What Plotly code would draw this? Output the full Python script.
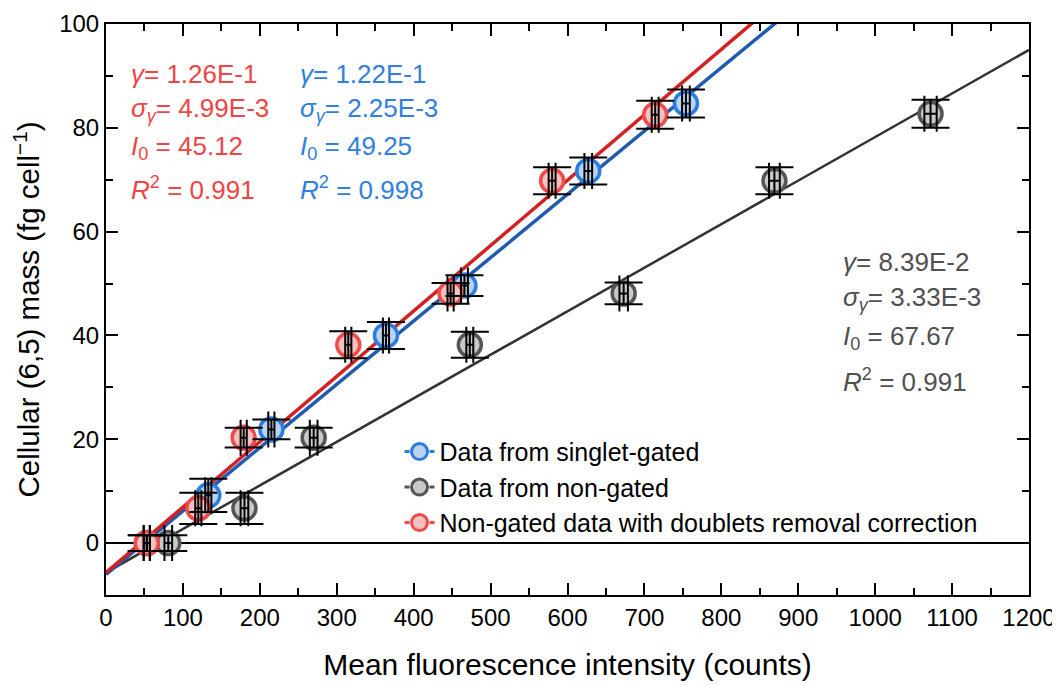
import numpy as np
import plotly.graph_objects as go

# ---------------- data ----------------
series_names = ["Data from singlet-gated", "Data from non-gated",
                "Non-gated data with doublets removal correction"]

blue_x = [53, 133, 215, 364, 466, 627, 754]
blue_y = [0, 9.2, 21.9, 40.0, 49.6, 71.7, 84.7]
blue_xerr = [4, 4, 4, 4, 4.5, 5, 5]
blue_yerr = [1.5, 3.2, 1.9, 2.6, 2.0, 2.6, 2.7]

gray_x = [81, 180, 270, 473, 673, 869, 1072]
gray_y = [0, 6.7, 20.3, 38.2, 48.1, 69.8, 82.7]
gray_xerr = [5, 5, 5, 4.5, 5.5, 7, 8]
gray_yerr = [1.5, 3.0, 1.9, 2.5, 2.1, 2.6, 2.7]

red_x = [53, 120, 179, 315, 448, 580, 714]
red_y = [0, 6.7, 20.3, 38.2, 48.1, 69.8, 82.5]
red_xerr = [4, 4, 4, 4, 4, 4.5, 4.5]
red_yerr = [1.5, 3.0, 1.9, 2.6, 2.0, 2.6, 2.7]

# fit parameters (blue, gray, red)
fit_gamma = [0.122, 0.0839, 0.126]
fit_sigma = ["2.25E-3", "3.33E-3", "4.99E-3"]
fit_gamma_txt = ["1.22E-1", "8.39E-2", "1.26E-1"]
fit_I0 = [49.25, 67.67, 45.12]
fit_R2 = ["0.998", "0.991", "0.991"]

x_range = [0, 1200]
y_range = [-10, 100]

# ---------------- styles ----------------
edge = ["#2a7de1", "#555555", "#ef4b4b"]
fill = ["#bcd3f0", "#c9c9c9", "#f5c0c0"]
line_col = ["#1f5bb0", "#333333", "#d42020"]
line_w = [3.5, 2.5, 3.5]
text_col = ["#2f80e0", "#505050", "#ef4545"]
FONT = "Liberation Sans, Arial, sans-serif"

xs = [blue_x, gray_x, red_x]
ys = [blue_y, gray_y, red_y]
xes = [blue_xerr, gray_xerr, red_xerr]
yes = [blue_yerr, gray_yerr, red_yerr]

fig = go.Figure()

draw_order = [1, 0, 2]
lx = np.array(x_range, dtype=float)
for i in draw_order:
    fig.add_trace(go.Scatter(
        x=lx, y=fit_gamma[i] * (lx - fit_I0[i]), mode="lines",
        line=dict(color=line_col[i], width=line_w[i]),
        showlegend=False, hoverinfo="skip"))

for i in draw_order:
    fig.add_trace(go.Scatter(
        x=xs[i], y=ys[i], mode="markers",
        marker=dict(size=23, color=fill[i], line=dict(color=edge[i], width=3.5)),
        showlegend=False))

for i in draw_order:
    fig.add_trace(go.Scatter(
        x=xs[i], y=ys[i], mode="markers",
        marker=dict(size=1, color="rgba(0,0,0,0)"),
        error_x=dict(type="data", array=xes[i], color="black", thickness=2, width=18),
        error_y=dict(type="data", array=yes[i], color="black", thickness=2, width=19),
        showlegend=False, hoverinfo="skip"))

for i in [0, 1, 2]:
    fig.add_trace(go.Scatter(
        x=[None], y=[None], mode="lines+markers", name=series_names[i],
        line=dict(color=edge[i], width=3, dash="5px,20px,5px"),
        marker=dict(size=16, color=fill[i], line=dict(color=edge[i], width=3)),
        legendgroup=str(i)))

def block(i, x0, yrows):
    lines = [
        f"<i>γ</i>= {fit_gamma_txt[i]}",
        f"<i>σ<sub>γ</sub></i>= {fit_sigma[i]}",
        f"<i>I</i><sub>0</sub> = {fit_I0[i]:.2f}",
        f"<i>R</i><sup>2</sup> = {fit_R2[i]}",
    ]
    for t, yy in zip(lines, yrows):
        fig.add_annotation(x=x0, y=yy, xref="x", yref="y", text=t, showarrow=False,
                           xanchor="left", yanchor="middle",
                           font=dict(family=FONT, size=26, color=text_col[i]))

block(2, 30, [90.4, 83.6, 76.3, 68.4])
block(0, 250, [90.4, 83.6, 76.3, 68.4])
block(1, 956, [54.1, 47.2, 39.7, 31.4])

axis_common = dict(
    showline=True, linecolor="black", linewidth=2, mirror="allticks",
    ticks="inside", ticklen=12, tickwidth=2, tickcolor="black",
    showgrid=False, tickfont=dict(family=FONT, size=24, color="black"),
    automargin=False,
)

fig.update_xaxes(range=x_range, dtick=100, tick0=0,
                 minor=dict(dtick=50, ticks="inside", ticklen=7, tickwidth=2, tickcolor="black"),
                 title=dict(text="Mean fluorescence intensity (counts)",
                            font=dict(family=FONT, size=30, color="black"), standoff=24),
                 zeroline=False, **axis_common)
fig.update_yaxes(range=y_range, dtick=20, tick0=0,
                 minor=dict(dtick=10, ticks="inside", ticklen=7, tickwidth=2, tickcolor="black"),
                 title=dict(text="Cellular (6,5) mass (fg cell<sup>−1</sup>)",
                            font=dict(family=FONT, size=29.5, color="black"), standoff=12),
                 zeroline=True, zerolinecolor="black", zerolinewidth=2, **axis_common)

# the page adds an 8px body margin, so the plot area is shifted back by 8px
fig.update_layout(
    width=1060, height=685,
    margin=dict(l=98, r=39, t=16, b=98, autoexpand=False),
    plot_bgcolor="white", paper_bgcolor="white",
    font=dict(family=FONT, color="black"),
    legend=dict(x=0.318, y=0.291, xanchor="left", yanchor="top",
                bgcolor="rgba(0,0,0,0)", font=dict(family=FONT, size=25, color="black"),
                traceorder="grouped", tracegroupgap=0),
)

fig.write_html("out.html")
